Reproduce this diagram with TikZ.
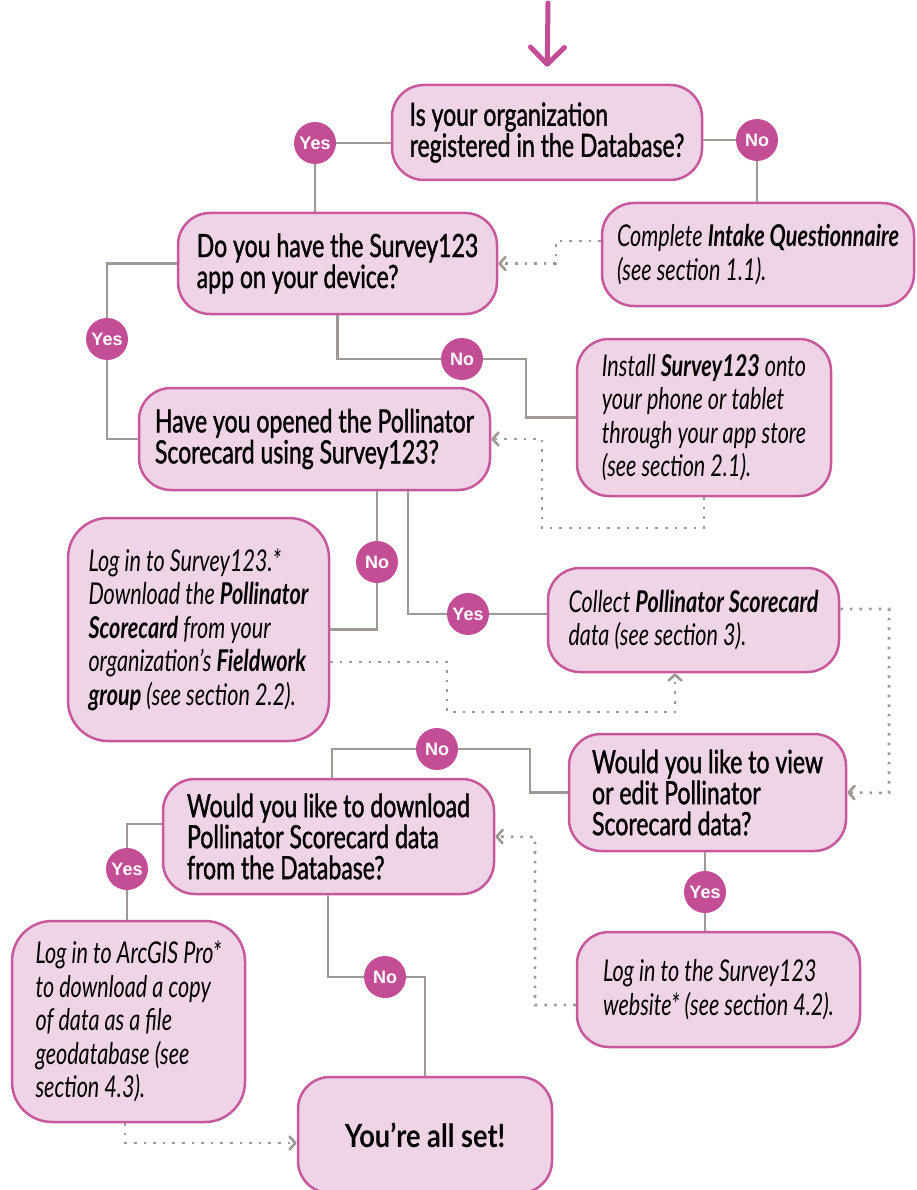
\documentclass[tikz,border=0pt]{standalone}
\usepackage{fontspec}
\usepackage{xcolor}
\usetikzlibrary{arrows.meta}
\newfontfamily\flowfont{Lato}[FakeStretch=0.72]
\newfontfamily\askfont{Lato}[FakeStretch=0.72, FakeBold=1.2]
\newfontfamily\endfont{Lato}[FakeStretch=0.85]
\newfontfamily\ansfont{Liberation Sans}
\definecolor{boxfill}{RGB}{238,212,230}
\definecolor{boxline}{RGB}{200,88,158}
\definecolor{ansfill}{RGB}{196,78,150}
\definecolor{lineg}{RGB}{160,152,148}
\tikzset{
  qbox/.style={draw=boxline, fill=boxfill, line width=2.5pt, rounded corners=32pt, align=left,
    font=\askfont\fontsize{32pt}{31pt}\selectfont},
  ibox/.style={qbox, font=\flowfont\itshape\fontsize{30pt}{33.5pt}\selectfont},
  ans/.style={circle, fill=ansfill, text=white, inner sep=0pt, minimum size=42pt,
    font=\ansfont\bfseries\fontsize{18pt}{18pt}\selectfont},
  conn/.style={draw=lineg, line width=2.5pt},
  dots/.style={draw=lineg, line width=2.6pt, dash pattern=on 2.6pt off 7pt,
    -{Straight Barb[length=6pt,width=13pt,round]}},
  entry/.style={draw=ansfill, line width=5pt, line cap=round,
    -{Straight Barb[length=17pt,width=34pt,round]}}
}
\begin{document}
\begin{tikzpicture}[x=1pt, y=-1pt]
	\useasboundingbox (0,0) rectangle (917,1190);
	\node (registered) [qbox, minimum width=310pt, minimum height=95pt] at (547,132.5) {Is your organization\\registered in the Database?};
	\node (intake) [ibox, minimum width=312pt, minimum height=103pt] at (758,254.5) {Complete \textbf{Intake Questionnaire}\\(see section 1.1).};
	\node (hasapp) [qbox, minimum width=319pt, minimum height=101pt] at (337.5,263.5) {Do you have the Survey123\\app on your device?};
	\node (install) [ibox, minimum width=254pt, minimum height=157pt] at (704,417.5) {Install \textbf{Survey123} onto\\your phone or tablet\\through your app store\\(see section 2.1).};
	\node (opened) [qbox, minimum width=351pt, minimum height=102pt] at (314.5,439) {Have you opened the Pollinator\\Scorecard using Survey123?};
	\node (login) [ibox, minimum width=261pt, minimum height=223pt, rounded corners=40pt] at (198.5,629.5) {Log in to Survey123.*\\Download the \textbf{Pollinator}\\\textbf{Scorecard} from your\\organization’s \textbf{Fieldwork}\\\textbf{group} (see section 2.2).};
	\node (collect) [ibox, minimum width=291pt, minimum height=104pt] at (693.5,620) {Collect \textbf{Pollinator Scorecard}\\data (see section 3).};
	\node (viewedit) [qbox, minimum width=277pt, minimum height=117pt] at (707.5,792.5) {Would you like to view\\or edit Pollinator\\Scorecard data?};
	\node (dbdownload) [qbox, minimum width=331pt, minimum height=115pt] at (328.5,836.5) {Would you like to download\\Pollinator Scorecard data\\from the Database?};
	\node (arcgis) [ibox, minimum width=233pt, minimum height=201pt, rounded corners=40pt] at (128.5,1021.5) {Log in to ArcGIS Pro*\\to download a copy\\of data as a file\\geodatabase (see\\section 4.3).};
	\node (website) [ibox, minimum width=283pt, minimum height=115pt] at (718.5,989.5) {Log in to the Survey123\\website* (see section 4.2).};
	\node (allset) [qbox, font=\endfont\bfseries\fontsize{32pt}{31pt}\selectfont, minimum width=254pt, minimum height=116pt] at (425,1135) {You’re all set!};
	\node (y1) [ans] at (315,143) {Yes};
	\node (n1) [ans] at (757,140) {No};
	\node (y2) [ans] at (107,339) {Yes};
	\node (n2) [ans] at (462,359) {No};
	\node (n3) [ans] at (377,562) {No};
	\node (y3) [ans] at (468,614) {Yes};
	\node (n4) [ans] at (437,749) {No};
	\node (y4) [ans] at (127,869) {Yes};
	\node (y5) [ans] at (705,892) {Yes};
	\node (n5) [ans] at (385,977) {No};
	\coordinate (top) at (548,3);
	\draw[entry] (top) -- (registered.north) [shorten >=17pt];
	\draw[conn] (registered.west |- y1) -- (y1);
	\draw[conn] (y1) -- (y1 |- hasapp.north);
	\draw[conn] (registered.east |- n1) -- (n1);
	\draw[conn] (n1) -- (n1 |- intake.north);
	\draw[conn] (hasapp.west) -| (y2);
	\draw[conn] (y2) |- (opened.west);
	\draw[conn] (hasapp.south) |- (n2);
	\draw[conn] (n2) -- (526,359) |- (install.west);
	\draw[conn] (opened.south -| n3) -- (n3);
	\draw[conn] (n3) |- (login.east);
	\draw[conn] (opened.south -| 408,0) |- (y3);
	\draw[conn] (y3) -- (y3 -| collect.west);
	\draw[conn] (dbdownload.north -| 332,0) |- (n4);
	\draw[conn] (n4) -- (530,749) |- (viewedit.west);
	\draw[conn] (dbdownload.west |- 0,824) -| (y4);
	\draw[conn] (y4) -- (y4 |- arcgis.north);
	\draw[conn] (viewedit.south -| y5) -- (y5);
	\draw[conn] (y5) -- (y5 |- website.north);
	\draw[conn] (dbdownload.south -| 328,0) |- (n5);
	\draw[conn] (n5) -| (allset.north);
	\draw[dots] (intake.west |- 0,241) -- (556,241) |- (hasapp.east);
	\draw[dots] (install.south) -- (704,528) -| (542,439) -- (opened.east);
	\draw[dots] (login.east |- 0,662) -| (447,712) -| (collect.south -| 675,0);
	\draw[dots] (collect.east |- 0,609) -| (889,793) -- (viewedit.east);
	\draw[dots] (website.west |- 0,1005) -| (535,837) -- (dbdownload.east);
	\draw[dots] (arcgis.south -| 125,0) |- (allset.west |- 0,1143);
\end{tikzpicture}
\end{document}
